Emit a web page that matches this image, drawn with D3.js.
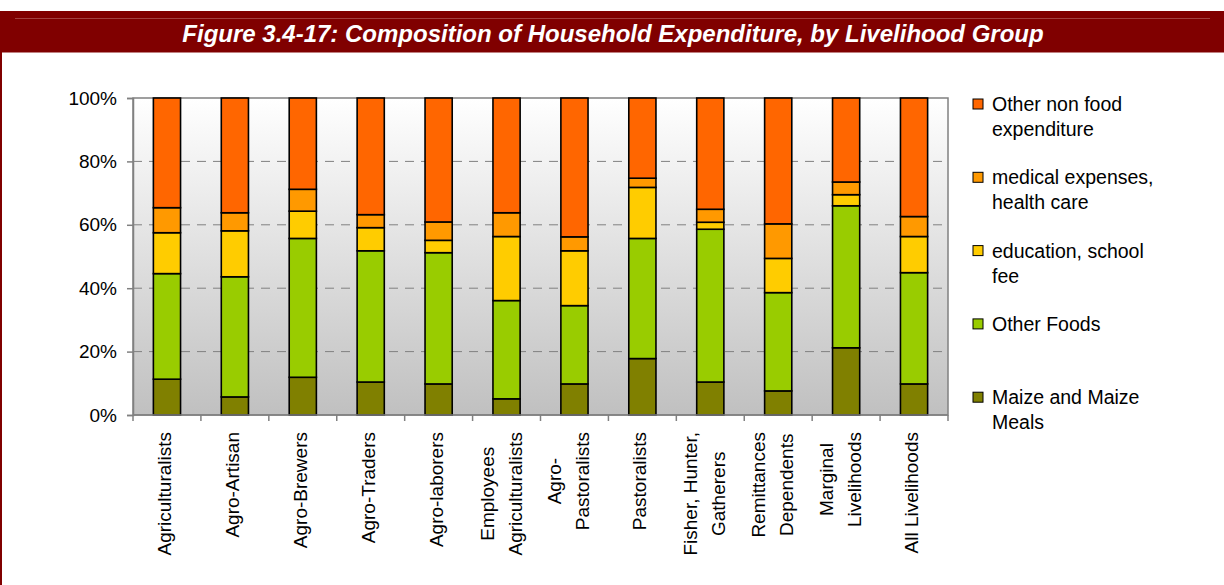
<!DOCTYPE html>
<html>
<head>
<meta charset="utf-8">
<script src="https://cdn.jsdelivr.net/npm/d3@7"></script>
<style>
    body { margin: 0; background: #fff; }
    text { font-family: "Liberation Sans", Arial, sans-serif; }
</style>
</head>
<body>
<svg id="chart"></svg>
<script>
// Data (percent of household expenditure)
const categories = [
    ['Agriculturalists'],
    ['Agro-Artisan'],
    ['Agro-Brewers'],
    ['Agro-Traders'],
    ['Agro-laborers'],
    ['Employees', 'Agriculturalists'],
    ['Agro-', 'Pastoralists'],
    ['Pastoralists'],
    ['Fisher, Hunter,', 'Gatherers'],
    ['Remittances', 'Dependents'],
    ['Marginal', 'Livelihoods'],
    ['All Livelihoods']
];
const maize      = [11.3, 5.7, 11.9, 10.4, 9.8, 5.1, 9.8, 17.8, 10.4, 7.6, 21.2, 9.8];
const otherFoods = [33.3, 37.9, 43.8, 41.4, 41.4, 31.0, 24.7, 37.9, 48.2, 31.0, 44.8, 35.1];
const education  = [12.9, 14.5, 8.6, 7.3, 3.9, 20.2, 17.3, 16.1, 2.2, 10.8, 3.5, 11.4];
const medical    = [7.9, 5.7, 6.9, 4.1, 5.8, 7.5, 4.4, 2.9, 4.1, 10.9, 4.0, 6.3];
const nonFood    = [34.6, 36.2, 28.8, 36.8, 39.1, 36.2, 43.8, 25.3, 35.1, 39.7, 26.5, 37.4];

const seriesKeys = ['maize', 'otherFoods', 'education', 'medical', 'nonFood'];
const seriesColors = ['#808000', '#99cc00', '#ffcc00', '#ff9900', '#ff6600'];
// legend is listed top-down, reverse of stacking order
const legendLines = [
    ['Other non food', 'expenditure'],
    ['medical expenses,', 'health care'],
    ['education, school', 'fee'],
    ['Other Foods'],
    ['Maize and Maize', 'Meals']
];
const yTicks = [0, 20, 40, 60, 80, 100];
const title = 'Figure 3.4-17: Composition of Household Expenditure, by Livelihood Group';

const width = 1224, height = 585;
const plot = { left: 133, right: 948, top: 98, bottom: 415 };

const svg = d3.select('#chart').attr('width', width).attr('height', height);

// header band
svg.append('rect').attr('x', 0).attr('y', 11).attr('width', width).attr('height', 41).attr('fill', '#800000');
svg.append('line').attr('x1', 15).attr('x2', 1210).attr('y1', 18.5).attr('y2', 18.5)
    .attr('stroke', '#a34040').attr('stroke-width', 1);
svg.append('line').attr('x1', 0).attr('x2', width).attr('y1', 52.5).attr('y2', 52.5)
    .attr('stroke', '#c08080').attr('stroke-width', 1);
svg.append('rect').attr('x', 0).attr('y', 52).attr('width', 2).attr('height', height - 52).attr('fill', '#800000');
svg.append('text')
    .attr('x', 613).attr('y', 42)
    .attr('text-anchor', 'middle')
    .attr('fill', '#fff')
    .style('font-size', '24px')
    .style('font-weight', 'bold')
    .style('font-style', 'italic')
    .text(title);

// plot background gradient
const grad = svg.append('defs').append('linearGradient')
    .attr('id', 'bg').attr('x1', 0).attr('x2', 0).attr('y1', 0).attr('y2', 1);
grad.append('stop').attr('offset', '0%').attr('stop-color', '#ffffff');
grad.append('stop').attr('offset', '100%').attr('stop-color', '#c0c0c0');

svg.append('rect')
    .attr('x', plot.left).attr('y', plot.top)
    .attr('width', plot.right - plot.left).attr('height', plot.bottom - plot.top)
    .attr('fill', 'url(#bg)')
    .attr('stroke', '#808080').attr('stroke-width', 1.5);

const x = d3.scaleBand()
    .domain(d3.range(categories.length))
    .range([plot.left, plot.right])
    .paddingInner(0.6).paddingOuter(0.3);
const xBand = d3.scaleBand().domain(d3.range(categories.length)).range([plot.left, plot.right]);
const y = d3.scaleLinear().domain([0, 100]).range([plot.bottom, plot.top]);

// gridlines
svg.append('g').selectAll('line')
    .data(yTicks.filter((t) => t > 0 && t < 100))
    .join('line')
    .attr('x1', plot.left).attr('x2', plot.right)
    .attr('y1', (d) => y(d)).attr('y2', (d) => y(d))
    .attr('stroke', '#808080').attr('stroke-width', 1)
    .attr('stroke-dasharray', '9,7');

// stacked bars
const rows = categories.map((c, i) => ({
    i: i,
    maize: maize[i],
    otherFoods: otherFoods[i],
    education: education[i],
    medical: medical[i],
    nonFood: nonFood[i]
}));
const stacked = d3.stack().keys(seriesKeys)(rows);

svg.append('g').selectAll('g')
    .data(stacked)
    .join('g')
    .attr('fill', (d, k) => seriesColors[k])
    .selectAll('rect')
    .data((d) => d)
    .join('rect')
    .attr('x', (d) => x(d.data.i))
    .attr('width', x.bandwidth())
    .attr('y', (d) => y(d[1]))
    .attr('height', (d) => y(d[0]) - y(d[1]))
    .attr('stroke', '#000').attr('stroke-width', 1.6);

// y axis
const yAxis = svg.append('g')
    .attr('transform', `translate(${plot.left},0)`)
    .call(d3.axisLeft(y).tickValues(yTicks).tickFormat((d) => d + '%').tickSize(6).tickPadding(10));
yAxis.select('.domain').attr('stroke', '#808080').attr('stroke-width', 1.5);
yAxis.selectAll('.tick line').attr('stroke', '#808080').attr('stroke-width', 1.5);
yAxis.selectAll('text').style('font-size', '19px').attr('fill', '#000')
    .style('font-family', '"Liberation Sans", Arial, sans-serif');

// x axis ticks at band boundaries
const xEdges = d3.range(categories.length + 1);
svg.append('g').selectAll('line')
    .data(xEdges)
    .join('line')
    .attr('x1', (d) => plot.left + d * xBand.step()).attr('x2', (d) => plot.left + d * xBand.step())
    .attr('y1', plot.bottom).attr('y2', plot.bottom + 6)
    .attr('stroke', '#808080').attr('stroke-width', 1.5);
svg.append('line')
    .attr('x1', plot.left).attr('x2', plot.right)
    .attr('y1', plot.bottom).attr('y2', plot.bottom)
    .attr('stroke', '#808080').attr('stroke-width', 1.5);

// x labels, rotated
const labelTop = 432;
const lineGap = 28;
categories.forEach((lines, i) => {
    const cx = xBand(i) + xBand.bandwidth() / 2;
    const g = svg.append('g');
    const texts = lines.map((t) => g.append('text')
        .style('font-size', '19px')
        .attr('fill', '#000')
        .attr('text-anchor', 'middle')
        .text(t));
    const maxLen = d3.max(texts, (t) => t.node().getComputedTextLength());
    const cy = labelTop + maxLen / 2;
    const shift = lines.length === 1 ? 4 : 1;
    texts.forEach((t, j) => {
        const lx = cx + shift + (j - (lines.length - 1) / 2) * lineGap;
        t.attr('transform', `translate(${lx},${cy}) rotate(-90)`);
    });
});

// legend
const legendX = 973, legendY0 = 99, legendStep = 73.3;
const legend = svg.append('g').selectAll('g')
    .data(legendLines)
    .join('g')
    .attr('transform', (d, k) => `translate(${legendX},${legendY0 + k * legendStep})`);
legend.append('rect')
    .attr('width', 10).attr('height', 10)
    .attr('fill', (d, k) => seriesColors[seriesColors.length - 1 - k])
    .attr('stroke', '#000').attr('stroke-width', 1);
legend.append('text')
    .style('font-size', '19.5px')
    .attr('fill', '#000')
    .selectAll('tspan')
    .data((d) => d)
    .join('tspan')
    .attr('x', 19)
    .attr('y', (d, j) => 12 + j * 25)
    .text((d) => d);
</script>
</body>
</html>
